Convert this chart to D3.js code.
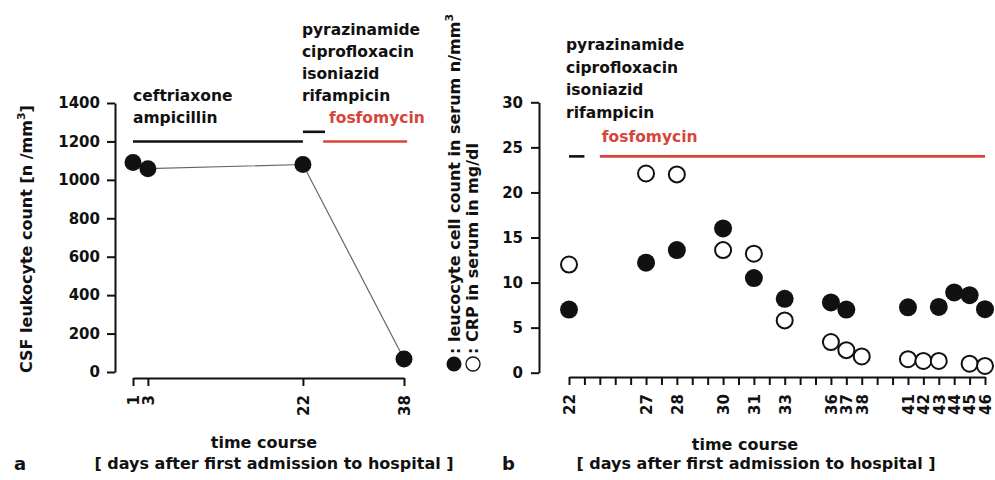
<!DOCTYPE html>
<html>
<head>
<meta charset="utf-8">
<script src="https://cdn.jsdelivr.net/npm/d3@7"></script>
<style>
  body { margin: 0; background: #fff; }
  svg text { font-family: "DejaVu Sans", sans-serif; font-weight: bold; fill: #111; }
</style>
</head>
<body>
<script>
// panel a : CSF leukocyte count
var aDays = [1, 3, 22, 38];
var aCsf = [1090, 1058, 1080, 68];
var aTicks = [0, 200, 400, 600, 800, 1000, 1200, 1400];

// panel b : serum leucocytes (filled) and CRP (open)
var bTickDays = [22, 27, 28, 30, 31, 33, 36, 37, 38, 41, 42, 43, 44, 45, 46];
var bLeuDays = [22, 27, 28, 30, 31, 33, 36, 37, 41, 43, 44, 45, 46];
var bLeu = [7.0, 12.2, 13.6, 16.0, 10.5, 8.2, 7.8, 7.0, 7.25, 7.3, 8.9, 8.6, 7.05];
var bCrpDays = [22, 27, 28, 30, 31, 33, 36, 37, 38, 41, 42, 43, 45, 46];
var bCrp = [12.0, 22.1, 22.0, 13.6, 13.2, 5.8, 3.4, 2.5, 1.8, 1.5, 1.3, 1.3, 1.0, 0.75];
var bTicks = [0, 5, 10, 15, 20, 25, 30];

// therapy bars  [from day, to day, level, colour]
var aTherapy = [[1, 22, 1200, 'k'], [22, 25.5, 1250, 'k'], [25.2, 38.5, 1200, 'r']];
var bTherapy = [[22, 23, 24, 'k'], [24, 46, 24, 'r']];

var red = '#d6463a';
var W = 995, H = 480;

var svg = d3.select('body').append('svg')
  .attr('width', W).attr('height', H);
svg.append('rect').attr('width', W).attr('height', H).attr('fill', '#fff');

function styleAxis(g) {
  g.selectAll('path, line').attr('stroke', '#111').attr('stroke-width', 2);
  g.selectAll('text').attr('font-size', 15).attr('fill', '#111')
    .attr('font-family', '"DejaVu Sans", sans-serif').attr('font-weight', 'bold');
}
function rotateLabels(g, off) {
  g.selectAll('.tick text')
    .attr('transform', 'rotate(-90)')
    .attr('text-anchor', 'end')
    .attr('x', -off).attr('y', 0).attr('dy', '0.36em');
}

// ---------- panel a ----------
// the original axis is not evenly spaced, so map the tick days piecewise
var ax0 = 133, ax1 = 404;
var aFrac = [0, 0.055, 0.627, 1];
var xa = d3.scaleLinear().domain(aDays)
  .range(aFrac.map(function(f) { return ax0 + f * (ax1 - ax0); }));
var ya = d3.scaleLinear().domain([0, 1400]).range([372, 103]);

svg.append('g').attr('transform', 'translate(115,0)')
  .call(d3.axisLeft(ya).tickValues(aTicks).tickFormat(d3.format('d'))
    .tickSize(8).tickSizeOuter(0).tickPadding(7))
  .call(styleAxis);

svg.append('g').attr('transform', 'translate(0,378)')
  .call(d3.axisBottom(xa).tickValues(aDays).tickFormat(d3.format('d'))
    .tickSize(8).tickSizeOuter(0))
  .call(styleAxis)
  .call(function(g) { rotateLabels(g, 17); });

svg.append('path')
  .datum(aDays.map(function(d, i) { return [d, aCsf[i]]; }))
  .attr('fill', 'none').attr('stroke', '#666').attr('stroke-width', 1.2)
  .attr('d', d3.line().x(function(d) { return xa(d[0]); }).y(function(d) { return ya(d[1]); }));

svg.selectAll('.adot').data(aDays).enter().append('circle')
  .attr('cx', function(d) { return xa(d); })
  .attr('cy', function(d, i) { return ya(aCsf[i]); })
  .attr('r', 8.5).attr('fill', '#111');

svg.selectAll('.atx').data(aTherapy).enter().append('line')
  .attr('x1', function(d) { return xa(d[0]); })
  .attr('x2', function(d) { return xa(d[1]); })
  .attr('y1', function(d) { return ya(d[2]); })
  .attr('y2', function(d) { return ya(d[2]); })
  .attr('stroke', function(d) { return d[3] == 'r' ? red : '#111'; })
  .attr('stroke-width', 2.6);

var t1 = svg.append('text').attr('font-size', 15.5);
t1.append('tspan').attr('x', xa(1)).attr('y', 101).text('ceftriaxone');
t1.append('tspan').attr('x', xa(1)).attr('y', 123).text('ampicillin');

var t2 = svg.append('text').attr('font-size', 15.5);
['pyrazinamide', 'ciprofloxacin', 'isoniazid', 'rifampicin'].forEach(function(s, i) {
  t2.append('tspan').attr('x', xa(22) - 1).attr('y', 35 + i * 22).text(s);
});
svg.append('text').attr('font-size', 15.5).attr('x', 329).attr('y', 123)
  .style('fill', red).text('fosfomycin');

var ytA = svg.append('text').attr('font-size', 16)
  .attr('transform', 'translate(32,373) rotate(-90)');
ytA.append('tspan').text('CSF leukocyte count [n /mm');
ytA.append('tspan').attr('font-size', 11).attr('dy', -7).text('3');
ytA.append('tspan').attr('dy', 7).text(']');

svg.append('text').attr('font-size', 16).attr('text-anchor', 'middle')
  .attr('x', 264).attr('y', 448).text('time course');
svg.append('text').attr('font-size', 16).attr('text-anchor', 'middle')
  .attr('x', 274).attr('y', 469).text('[ days after first admission to hospital ]');
svg.append('text').attr('font-size', 18).attr('x', 14).attr('y', 470).text('a');

// ---------- panel b ----------
// the day axis has 28 evenly spaced ticks; labelled days sit on these slots
var bSlots = [0, 5, 7, 10, 12, 14, 17, 18, 19, 22, 23, 24, 25, 26, 27];
var bx0 = 569, bx1 = 985;
var slot = d3.scaleLinear().domain([0, 27]).range([bx0, bx1]);
var xb = d3.scaleLinear().domain(bTickDays).range(bSlots.map(slot));
var yb = d3.scaleLinear().domain([0, 30]).range([372.7, 102.3]);

svg.append('g').attr('transform', 'translate(539,0)')
  .call(d3.axisLeft(yb).tickValues(bTicks).tickSize(8).tickSizeOuter(0).tickPadding(8))
  .call(styleAxis);

svg.append('g').attr('transform', 'translate(0,377)')
  .call(d3.axisBottom(slot).tickValues(d3.range(0, 28)).tickSize(8).tickSizeOuter(0)
    .tickFormat(function(s) { var i = bSlots.indexOf(s); return i < 0 ? '' : bTickDays[i]; }))
  .call(styleAxis)
  .call(function(g) { rotateLabels(g, 17); });

svg.selectAll('.btx').data(bTherapy).enter().append('line')
  .attr('x1', function(d) { return xb(d[0]); })
  .attr('x2', function(d) { return xb(d[1]); })
  .attr('y1', function(d) { return yb(d[2]); })
  .attr('y2', function(d) { return yb(d[2]); })
  .attr('stroke', function(d) { return d[3] == 'r' ? red : '#111'; })
  .attr('stroke-width', 2.6);

svg.selectAll('.crp').data(bCrpDays).enter().append('circle')
  .attr('cx', function(d) { return xb(d); })
  .attr('cy', function(d, i) { return yb(bCrp[i]); })
  .attr('r', 8).attr('fill', '#fff').attr('stroke', '#111').attr('stroke-width', 2);

svg.selectAll('.leu').data(bLeuDays).enter().append('circle')
  .attr('cx', function(d) { return xb(d); })
  .attr('cy', function(d, i) { return yb(bLeu[i]); })
  .attr('r', 9).attr('fill', '#111');

var t3 = svg.append('text').attr('font-size', 15.5);
['pyrazinamide', 'ciprofloxacin', 'isoniazid', 'rifampicin'].forEach(function(s, i) {
  t3.append('tspan').attr('x', xb(22) - 3).attr('y', 50 + i * 22.7).text(s);
});
svg.append('text').attr('font-size', 15.5).attr('x', xb(24) + 2).attr('y', 142)
  .style('fill', red).text('fosfomycin');

// rotated legend / axis title
svg.append('circle').attr('cx', 454).attr('cy', 364).attr('r', 7.5).attr('fill', '#111');
svg.append('circle').attr('cx', 473).attr('cy', 364).attr('r', 7)
  .attr('fill', '#fff').attr('stroke', '#111').attr('stroke-width', 1.3);
var yt1 = svg.append('text').attr('font-size', 16)
  .attr('transform', 'translate(460,354) rotate(-90)');
yt1.append('tspan').text(': leucocyte cell count in serum n/mm');
yt1.append('tspan').attr('font-size', 11).attr('dy', -7).text('3');
svg.append('text').attr('font-size', 16)
  .attr('transform', 'translate(478,354) rotate(-90)')
  .text(': CRP in serum in mg/dl');

svg.append('text').attr('font-size', 16).attr('text-anchor', 'middle')
  .attr('x', 745).attr('y', 450).text('time course');
svg.append('text').attr('font-size', 16).attr('text-anchor', 'middle')
  .attr('x', 756).attr('y', 469).text('[ days after first admission to hospital ]');
svg.append('text').attr('font-size', 18).attr('x', 502).attr('y', 470).text('b');
</script>
</body>
</html>
